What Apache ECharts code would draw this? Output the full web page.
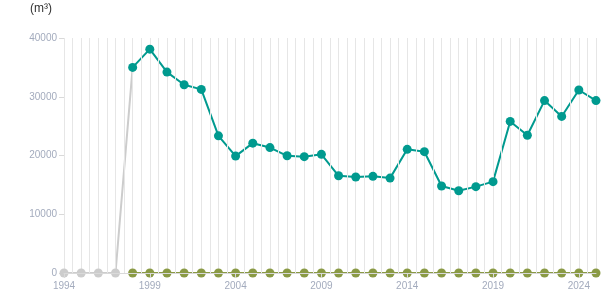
<!DOCTYPE html>
<html>
<head>
<meta charset="utf-8">
<script src="https://cdn.jsdelivr.net/npm/echarts@6/dist/echarts.min.js"></script>
<style>
  html, body { margin: 0; padding: 0; background: #fff; }
  #chart { width: 615px; height: 305px; }
</style>
</head>
<body>
<div id="chart"></div>
<script>
// years 1994-1997 (grey, before the series starts)
const earlyYears = [1994, 1995, 1996, 1997, 1998]
const earlyValues = [0, 0, 0, 0, 35000]

// years 1998-2025
const years = [1998, 1999, 2000, 2001, 2002, 2003, 2004, 2005, 2006, 2007,
  2008, 2009, 2010, 2011, 2012, 2013, 2014, 2015, 2016, 2017,
  2018, 2019, 2020, 2021, 2022, 2023, 2024, 2025]
const volume = [35000, 38100, 34200, 32050, 31250, 23350, 19900, 22100, 21350, 19950,
  19800, 20200, 16550, 16350, 16450, 16150, 21050, 20650, 14800, 14000,
  14700, 15550, 25800, 23450, 29350, 26650, 31150, 29350]
const other = [0, 0, 0, 0, 0, 0, 0, 0, 0, 0,
  0, 0, 0, 0, 0, 0, 0, 0, 0, 0,
  0, 0, 0, 0, 0, 0, 0, 0]

const yTicks = [0, 10000, 20000, 30000, 40000]

const labelColor = '#a3abbd'
const gridColor = '#e6e6e6'

function pairs(xs, ys) {
  return xs.map((x, i) => [x, ys[i]])
}

// line part sits under the vertical grid lines, dots sit over them
function lineSeries(data, color) {
  return {
    type: 'line', xAxisIndex: 0, z: 1, data: data,
    showSymbol: false, silent: true,
    lineStyle: { color: color, width: 2 }
  }
}
function dotSeries(data, color) {
  return {
    type: 'scatter', xAxisIndex: 0, z: 3, data: data,
    symbolSize: 9, itemStyle: { color: color, opacity: 1 }, silent: true
  }
}

const chart = echarts.init(document.getElementById('chart'))

const greyDots = pairs(earlyYears, earlyValues).slice(0, 4)

chart.setOption({
  animation: false,
  title: {
    text: '(m³)', left: 25, top: -2,
    textStyle: { fontSize: 12, fontWeight: 'normal', color: '#333', fontFamily: 'Arial, Liberation Sans' }
  },
  grid: { left: 64, right: 19, top: 38, bottom: 32 },
  xAxis: [
    {
      type: 'value', min: 1994, max: 2025, interval: 0.5, z: 2,
      axisLine: { show: false }, axisTick: { show: false }, axisLabel: { show: false },
      splitLine: { show: true, lineStyle: { color: gridColor, width: 1 } }
    },
    {
      type: 'value', min: 1994, max: 2025, interval: 5, z: 4, position: 'bottom',
      axisLine: { show: true, lineStyle: { color: '#d9d9d9', width: 1 } },
      axisTick: { show: true, length: 5, lineStyle: { color: '#d9d9d9' } },
      axisLabel: {
        color: labelColor, fontSize: 10, margin: 8,
        fontFamily: 'Arial, Liberation Sans',
        showMaxLabel: false,
        formatter: v => String(v)
      },
      splitLine: { show: false }
    }
  ],
  yAxis: {
    type: 'value', min: yTicks[0], max: yTicks[yTicks.length - 1], interval: 10000,
    axisLine: { show: false },
    axisTick: { show: true, length: 5, lineStyle: { color: '#d9d9d9' } },
    axisLabel: {
      color: labelColor, fontSize: 10, margin: 7,
      fontFamily: 'Arial, Liberation Sans',
      formatter: v => String(v)
    },
    splitLine: { show: false }
  },
  series: [
    lineSeries(pairs(earlyYears, earlyValues), '#cccccc'),
    lineSeries(pairs(years, other), '#8a9a45'),
    lineSeries(pairs(years, volume), '#009a8f'),
    dotSeries(greyDots, '#cccccc'),
    dotSeries(pairs(years, other), '#8a9a45'),
    dotSeries(pairs(years, volume), '#009a8f')
  ]
})
</script>
</body>
</html>
